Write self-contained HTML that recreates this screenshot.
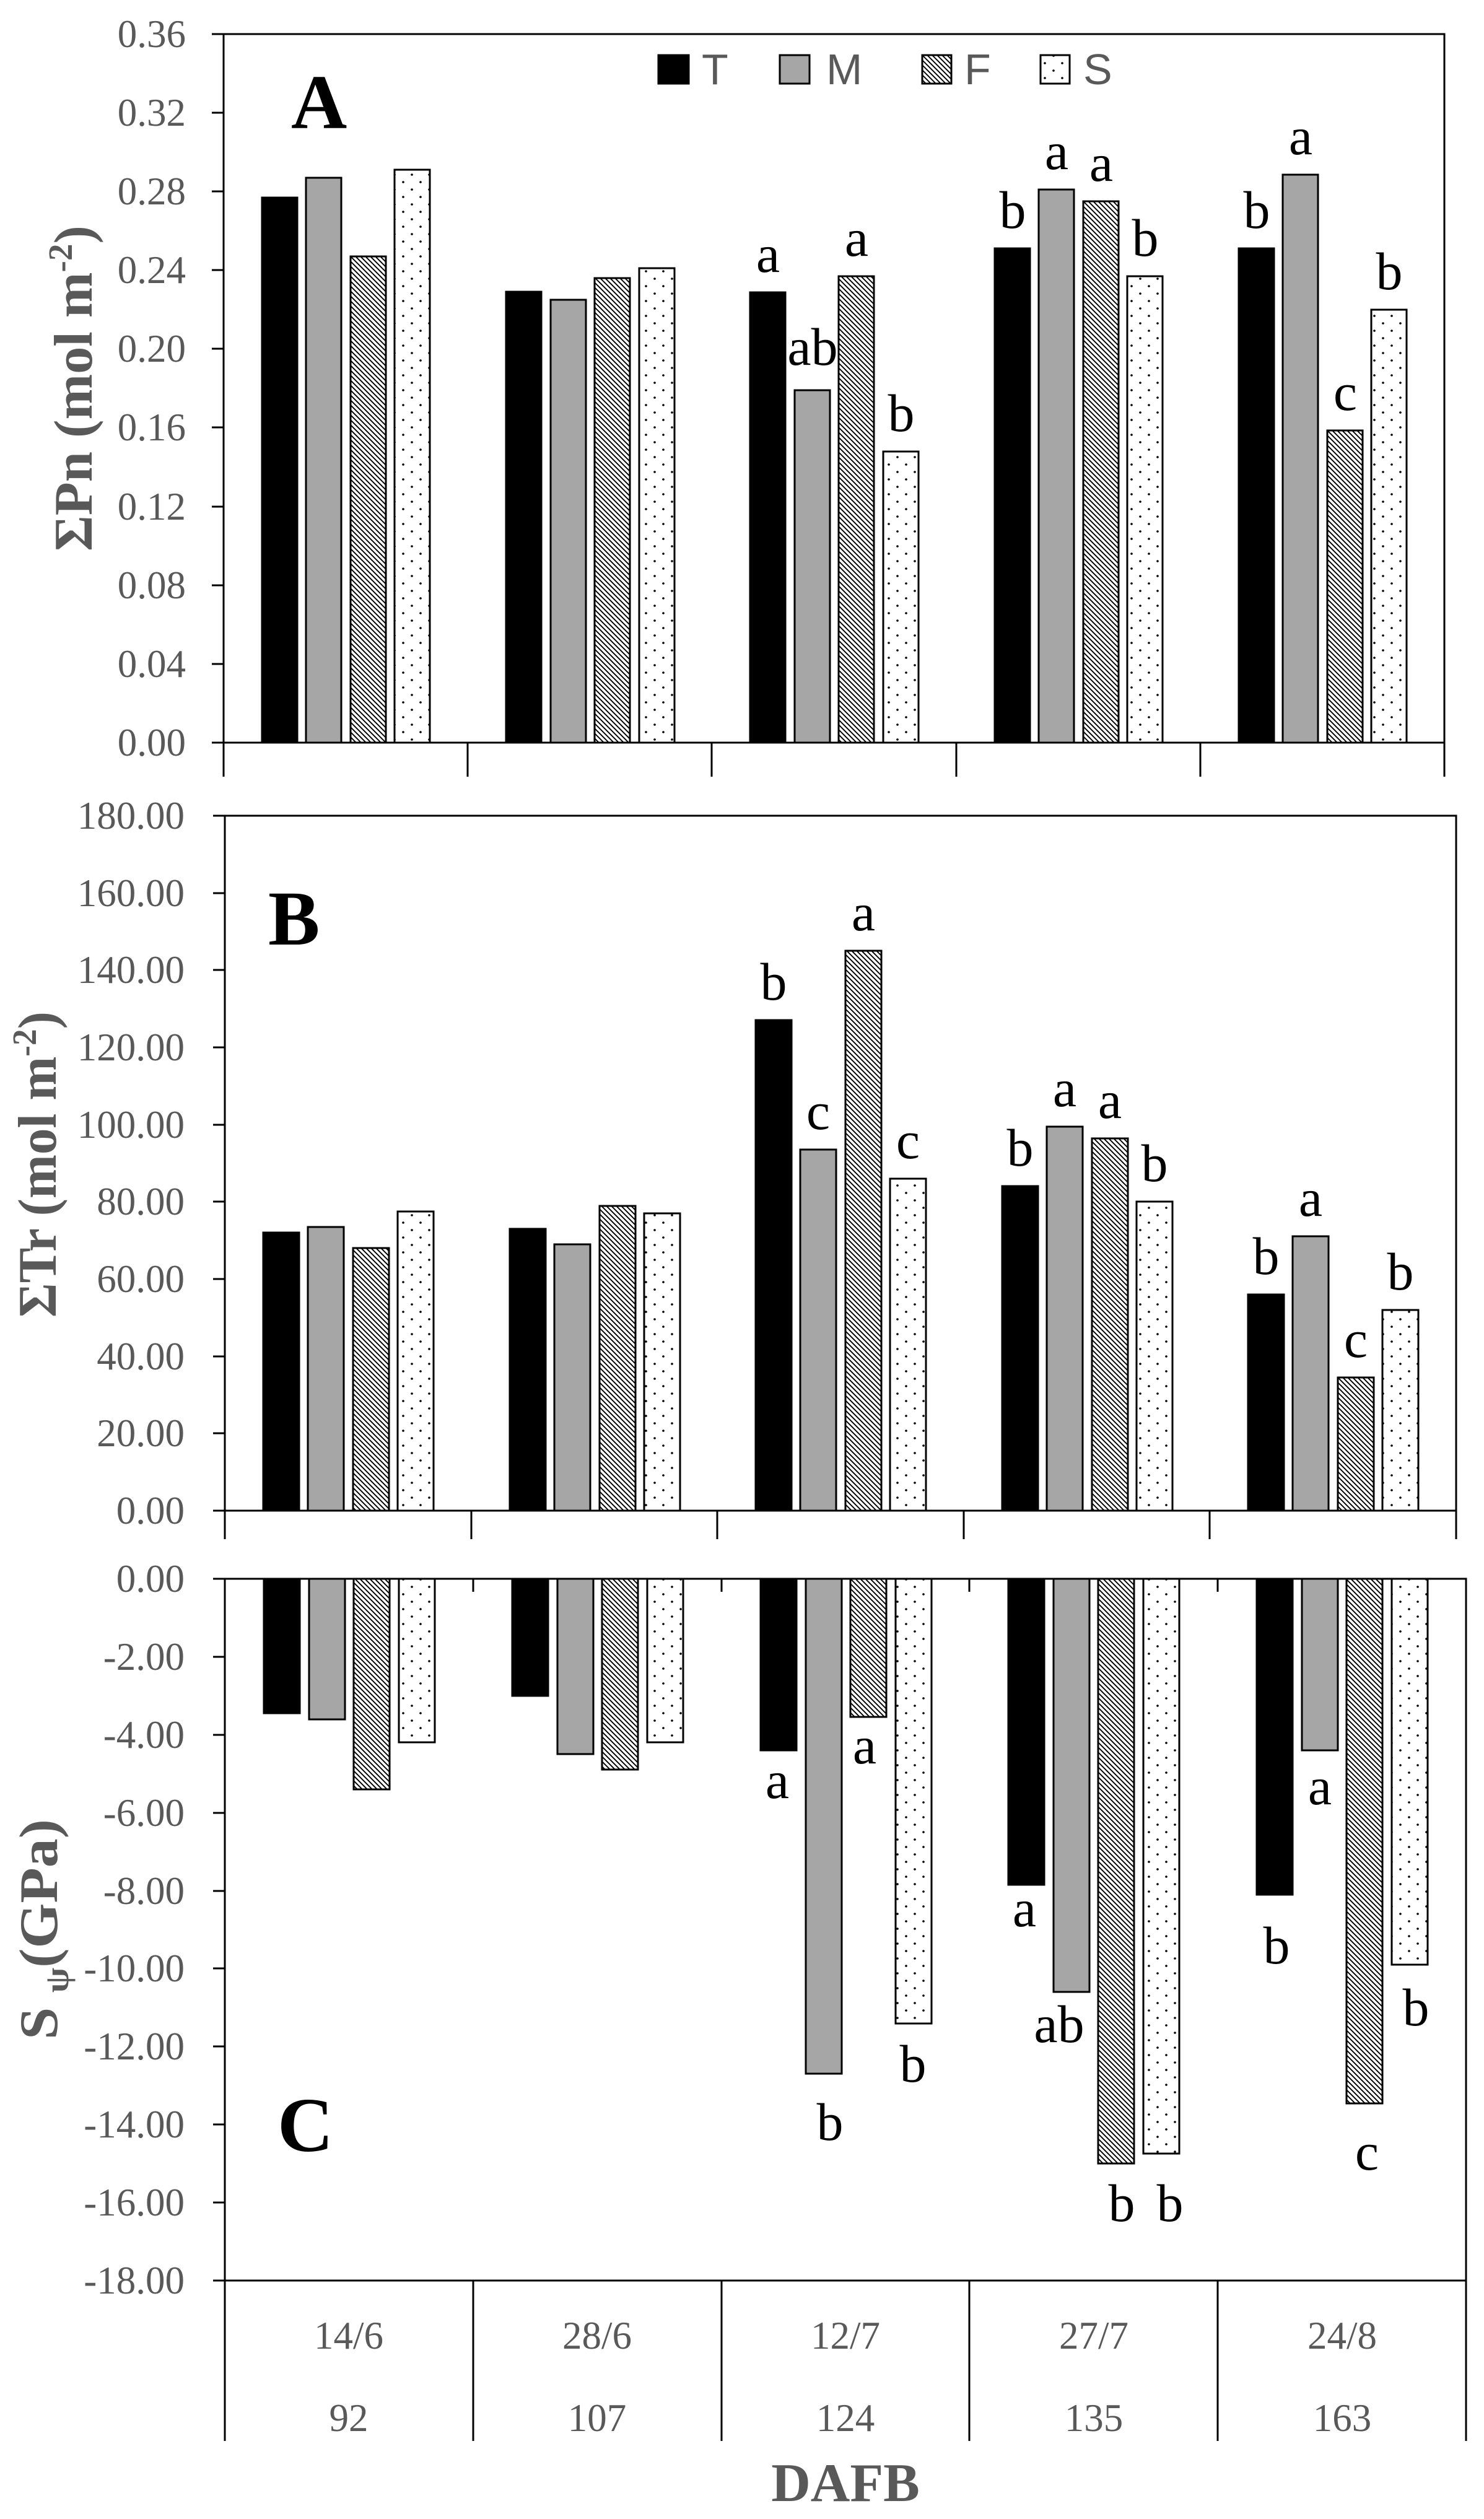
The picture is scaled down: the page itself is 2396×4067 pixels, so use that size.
<!DOCTYPE html>
<html><head><meta charset="utf-8"><style>html,body{margin:0;padding:0;background:#fff}svg{display:block}</style></head>
<body>
<svg xmlns="http://www.w3.org/2000/svg" width="2396" height="4067" viewBox="0 0 2396 4067">
<defs>
<pattern id="h" width="8" height="8" patternUnits="userSpaceOnUse"><rect width="8" height="8" fill="#fff"/><path d="M-2,-2L10,10M-2,6L2,10M6,-2L10,2" stroke="#000" stroke-width="1.9"/></pattern>
<pattern id="d" width="28" height="24" patternUnits="userSpaceOnUse"><rect width="28" height="24" fill="#fff"/><circle cx="7" cy="6" r="1.8" fill="#000"/><circle cx="21" cy="18" r="1.8" fill="#000"/></pattern>
</defs>
<g font-family="Liberation Serif, serif">

<!-- ===== PANEL A ===== -->
<g stroke="#000" stroke-width="3" fill="none">
<path d="M361,55H2332V1254M361,55V1254M342,1199H2332"/>
<path d="M755,1199V1254M1149,1199V1254M1544,1199V1254M1938,1199V1254"/>
<path d="M342,55H361M342,182H361M342,309H361M342,436H361M342,563H361M342,690H361M342,818H361M342,945H361M342,1072H361"/>
</g>
<g font-size="63" fill="#595959" text-anchor="end">
<text x="300" y="76">0.36</text><text x="300" y="203">0.32</text><text x="300" y="330">0.28</text><text x="300" y="457">0.24</text><text x="300" y="584">0.20</text><text x="300" y="711">0.16</text><text x="300" y="839">0.12</text><text x="300" y="966">0.08</text><text x="300" y="1093">0.04</text><text x="300" y="1220">0.00</text>
</g>
<g stroke="#000" stroke-width="3">
<rect x="423" y="319" width="57" height="880" fill="#000"/><rect x="494" y="287" width="57" height="912" fill="#a6a6a6"/><rect x="566" y="414" width="57" height="785" fill="url(#h)"/><rect x="637" y="274" width="57" height="925" fill="url(#d)"/>
<rect x="817" y="471" width="57" height="728" fill="#000"/><rect x="889" y="484" width="57" height="715" fill="#a6a6a6"/><rect x="960" y="449" width="57" height="750" fill="url(#h)"/><rect x="1032" y="433" width="57" height="766" fill="url(#d)"/>
<rect x="1211" y="472" width="57" height="727" fill="#000"/><rect x="1283" y="630" width="57" height="569" fill="#a6a6a6"/><rect x="1354" y="446" width="57" height="753" fill="url(#h)"/><rect x="1426" y="729" width="57" height="470" fill="url(#d)"/>
<rect x="1606" y="401" width="57" height="798" fill="#000"/><rect x="1677" y="306" width="57" height="893" fill="#a6a6a6"/><rect x="1749" y="325" width="57" height="874" fill="url(#h)"/><rect x="1820" y="446" width="57" height="753" fill="url(#d)"/>
<rect x="2000" y="401" width="57" height="798" fill="#000"/><rect x="2071" y="282" width="57" height="917" fill="#a6a6a6"/><rect x="2143" y="695" width="57" height="504" fill="url(#h)"/><rect x="2214" y="500" width="57" height="699" fill="url(#d)"/>
</g>
<g font-size="86" fill="#000" text-anchor="middle">
<text x="1240" y="439">a</text><text x="1312" y="589">ab</text><text x="1383" y="413">a</text><text x="1455" y="696">b</text>
<text x="1635" y="368">b</text><text x="1706" y="273">a</text><text x="1778" y="292">a</text><text x="1849" y="413">b</text>
<text x="2029" y="368">b</text><text x="2100" y="249">a</text><text x="2172" y="662">c</text><text x="2243" y="467">b</text>
</g>
<text x="470" y="207" font-size="125" font-weight="bold">A</text>
<text transform="translate(148,627) rotate(-90)" text-anchor="middle" font-size="88" font-weight="bold" fill="#595959" textLength="526" lengthAdjust="spacingAndGlyphs">ΣPn (mol m<tspan font-size="55" dy="-32">-2</tspan><tspan dy="32">)</tspan></text>
<!-- legend -->
<g stroke="#000" stroke-width="3">
<rect x="1063" y="89" width="49" height="46" fill="#000"/><rect x="1259" y="89" width="48" height="46" fill="#a6a6a6"/><rect x="1489" y="89" width="47" height="46" fill="url(#h)"/><rect x="1680" y="89" width="47" height="46" fill="url(#d)"/>
</g>
<g font-family="Liberation Sans, sans-serif" font-size="70" fill="#595959">
<text x="1133" y="136">T</text><text x="1334" y="136">M</text><text x="1557" y="136">F</text><text x="1749" y="136">S</text>
</g>

<!-- ===== PANEL B ===== -->
<g stroke="#000" stroke-width="3" fill="none">
<path d="M363,1317H2351V2485M363,1317V2485M344,2439H2351"/>
<path d="M761,2439V2485M1158,2439V2485M1556,2439V2485M1953,2439V2485"/>
<path d="M344,1317H363M344,1442H363M344,1566H363M344,1691H363M344,1816H363M344,1940H363M344,2065H363M344,2190H363M344,2314H363"/>
</g>
<g font-size="63" fill="#595959" text-anchor="end">
<text x="298" y="1338">180.00</text><text x="298" y="1463">160.00</text><text x="298" y="1587">140.00</text><text x="298" y="1712">120.00</text><text x="298" y="1837">100.00</text><text x="298" y="1961">80.00</text><text x="298" y="2086">60.00</text><text x="298" y="2211">40.00</text><text x="298" y="2335">20.00</text><text x="298" y="2460">0.00</text>
</g>
<g stroke="#000" stroke-width="3">
<rect x="425" y="1990" width="58" height="449" fill="#000"/><rect x="497" y="1981" width="58" height="458" fill="#a6a6a6"/><rect x="570" y="2015" width="58" height="424" fill="url(#h)"/><rect x="642" y="1956" width="58" height="483" fill="url(#d)"/>
<rect x="823" y="1984" width="58" height="455" fill="#000"/><rect x="895" y="2009" width="58" height="430" fill="#a6a6a6"/><rect x="968" y="1947" width="58" height="492" fill="url(#h)"/><rect x="1040" y="1959" width="58" height="480" fill="url(#d)"/>
<rect x="1220" y="1647" width="58" height="792" fill="#000"/><rect x="1292" y="1856" width="58" height="583" fill="#a6a6a6"/><rect x="1365" y="1535" width="58" height="904" fill="url(#h)"/><rect x="1437" y="1903" width="58" height="536" fill="url(#d)"/>
<rect x="1618" y="1915" width="58" height="524" fill="#000"/><rect x="1690" y="1819" width="58" height="620" fill="#a6a6a6"/><rect x="1763" y="1838" width="58" height="601" fill="url(#h)"/><rect x="1835" y="1940" width="58" height="499" fill="url(#d)"/>
<rect x="2015" y="2090" width="58" height="349" fill="#000"/><rect x="2087" y="1996" width="58" height="443" fill="#a6a6a6"/><rect x="2160" y="2224" width="58" height="215" fill="url(#h)"/><rect x="2232" y="2115" width="58" height="324" fill="url(#d)"/>
</g>
<g font-size="86" fill="#000" text-anchor="middle">
<text x="1249" y="1614">b</text><text x="1321" y="1823">c</text><text x="1394" y="1502">a</text><text x="1466" y="1870">c</text>
<text x="1647" y="1882">b</text><text x="1719" y="1786">a</text><text x="1792" y="1805">a</text><text x="1864" y="1907">b</text>
<text x="2044" y="2057">b</text><text x="2116" y="1963">a</text><text x="2189" y="2191">c</text><text x="2261" y="2082">b</text>
</g>
<text x="433" y="1525" font-size="125" font-weight="bold">B</text>
<text transform="translate(90,1880) rotate(-90)" text-anchor="middle" font-size="88" font-weight="bold" fill="#595959" textLength="494" lengthAdjust="spacingAndGlyphs">ΣTr (mol m<tspan font-size="55" dy="-32">-2</tspan><tspan dy="32">)</tspan></text>

<!-- ===== PANEL C ===== -->
<g stroke="#000" stroke-width="3" fill="none">
<path d="M363,2549H2367V3941M363,2549V3941M344,3682H2367"/>
<path d="M764,2549V2570M1165,2549V2570M1565,2549V2570M1966,2549V2570"/>
<path d="M764,3682V3941M1165,3682V3941M1565,3682V3941M1966,3682V3941"/>
<path d="M344,2549H363M344,2675H363M344,2801H363M344,2927H363M344,3053H363M344,3178H363M344,3304H363M344,3430H363M344,3556H363"/>
</g>
<g font-size="63" fill="#595959" text-anchor="end">
<text x="298" y="2570">0.00</text><text x="298" y="2696">-2.00</text><text x="298" y="2822">-4.00</text><text x="298" y="2948">-6.00</text><text x="298" y="3074">-8.00</text><text x="298" y="3199">-10.00</text><text x="298" y="3325">-12.00</text><text x="298" y="3451">-14.00</text><text x="298" y="3577">-16.00</text><text x="298" y="3703">-18.00</text>
</g>
<g stroke="#000" stroke-width="3">
<rect x="426" y="2549" width="58" height="217" fill="#000"/><rect x="499" y="2549" width="58" height="227" fill="#a6a6a6"/><rect x="571" y="2549" width="58" height="340" fill="url(#h)"/><rect x="644" y="2549" width="58" height="264" fill="url(#d)"/>
<rect x="827" y="2549" width="58" height="189" fill="#000"/><rect x="900" y="2549" width="58" height="283" fill="#a6a6a6"/><rect x="972" y="2549" width="58" height="308" fill="url(#h)"/><rect x="1045" y="2549" width="58" height="264" fill="url(#d)"/>
<rect x="1228" y="2549" width="58" height="277" fill="#000"/><rect x="1301" y="2549" width="58" height="799" fill="#a6a6a6"/><rect x="1373" y="2549" width="58" height="223" fill="url(#h)"/><rect x="1446" y="2549" width="58" height="718" fill="url(#d)"/>
<rect x="1628" y="2549" width="58" height="494" fill="#000"/><rect x="1701" y="2549" width="58" height="667" fill="#a6a6a6"/><rect x="1773" y="2549" width="58" height="944" fill="url(#h)"/><rect x="1846" y="2549" width="58" height="928" fill="url(#d)"/>
<rect x="2029" y="2549" width="58" height="510" fill="#000"/><rect x="2102" y="2549" width="58" height="277" fill="#a6a6a6"/><rect x="2174" y="2549" width="58" height="847" fill="url(#h)"/><rect x="2247" y="2549" width="58" height="623" fill="url(#d)"/>
</g>
<g font-size="86" fill="#000" text-anchor="middle">
<text x="1255" y="2903">a</text><text x="1340" y="3455">b</text><text x="1396" y="2847">a</text><text x="1474" y="3361">b</text>
<text x="1654" y="3110">a</text><text x="1710" y="3297">ab</text><text x="1811" y="3586">b</text><text x="1889" y="3586">b</text>
<text x="2061" y="3170">b</text><text x="2131" y="2913">a</text><text x="2207" y="3503">c</text><text x="2286" y="3270">b</text>
</g>
<text x="448" y="3473" font-size="125" font-weight="bold">C</text>
<text transform="translate(92,3115) rotate(-90)" text-anchor="middle" font-size="88" font-weight="bold" fill="#595959" textLength="356" lengthAdjust="spacingAndGlyphs">S <tspan font-size="55" dy="18">ψ</tspan><tspan dy="-18">(GPa)</tspan></text>

<!-- category labels -->
<g font-size="63" fill="#595959" text-anchor="middle">
<text x="563" y="3792">14/6</text><text x="964" y="3792">28/6</text><text x="1365" y="3792">12/7</text><text x="1766" y="3792">27/7</text><text x="2167" y="3792">24/8</text>
<text x="563" y="3925">92</text><text x="964" y="3925">107</text><text x="1365" y="3925">124</text><text x="1766" y="3925">135</text><text x="2167" y="3925">163</text>
</g>
<text x="1365" y="4038" text-anchor="middle" font-size="88" font-weight="bold" fill="#595959">DAFB</text>
</g>
</svg>
</body></html>
